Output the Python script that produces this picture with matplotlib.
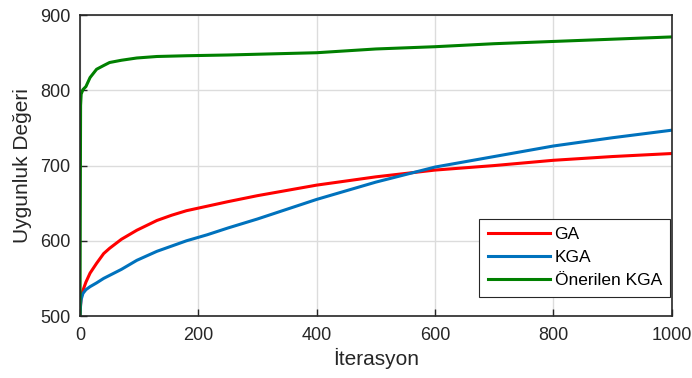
import matplotlib.pyplot as plt

plt.rcParams['font.family'] = ['Liberation Sans', 'DejaVu Sans']

# readings (iteration -> fitness)
iters = [0, 1, 2, 5, 10, 17, 28, 40, 50, 70, 96, 130, 155, 180, 215, 250,
         300, 400, 500, 600, 700, 800, 900, 1000]
ga = [500, 515, 525, 534, 545, 557, 570, 583, 590, 602, 614, 627, 634,
      640, 646, 652, 660, 674, 685, 694, 700, 707, 712, 716]
kga = [500, 515, 522, 530, 535, 539, 544, 550, 554, 562, 574, 586, 593,
       600, 608, 617, 629, 655, 678, 698, 712, 726, 737, 747]
onerilen = [500, 780, 795, 801, 805, 817, 828, 833, 837, 840, 843, 845,
            845.5, 846, 846.5, 847, 848, 850, 855, 858, 862, 865, 868, 871]

labels = ['GA', 'KGA', 'Önerilen KGA']
colors = ['#ff0000', '#0072bd', '#008000']
xticks = [0, 200, 400, 600, 800, 1000]
yticks = [500, 600, 700, 800, 900]

fig = plt.figure(figsize=(6.92, 3.78), dpi=100)
ax = fig.add_axes([0.1156, 0.164, 0.855, 0.796])

for series, lab, c in zip([ga, kga, onerilen], labels, colors):
    ax.plot(iters, series, color=c, lw=2.2, label=lab)

ax.set_xlim(0, 1000)
ax.set_ylim(500, 900)
ax.set_xticks(xticks)
ax.set_yticks(yticks)
ax.grid(True, color='#dcdcdc', lw=1)
ax.set_axisbelow(True)
ax.tick_params(direction='in', length=5, width=1, labelsize=13,
               colors='#262626', top=False, right=False)
ax.tick_params(axis='x', pad=8)
ax.tick_params(axis='y', pad=7)
for s in ax.spines.values():
    s.set_color('#262626')
    s.set_linewidth(1.2)

ax.set_xlabel('İterasyon', fontsize=15, color='#262626', labelpad=3)
ax.set_ylabel('Uygunluk Değeri', fontsize=15, color='#262626', labelpad=6)

leg = ax.legend(loc='lower right', bbox_to_anchor=(0.998, 0.063),
                borderaxespad=0, fontsize=12.5, fancybox=False,
                framealpha=1, edgecolor='#262626', handlelength=3.6,
                handletextpad=0.25, labelspacing=0.45, borderpad=0.5)
leg.get_frame().set_linewidth(0.8)

fig.savefig('out.png', dpi=100)
